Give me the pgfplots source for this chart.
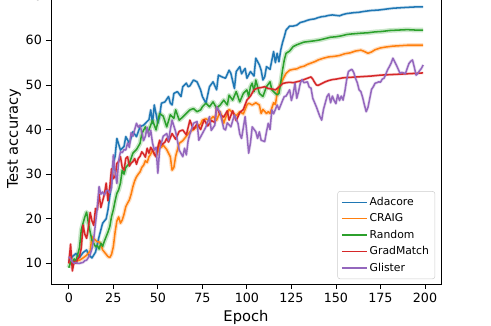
\documentclass[border=0pt]{standalone}
\usepackage{pgfplots}
\pgfplotsset{compat=1.18}
\usepackage{fontspec}
\setmainfont{DejaVu Sans}

\definecolor{cblue}{HTML}{1F77B4}
\definecolor{corange}{HTML}{FF7F0E}
\definecolor{cgreen}{HTML}{2CA02C}
\definecolor{cred}{HTML}{D62728}
\definecolor{cpurple}{HTML}{9467BD}

% Adacore
\pgfplotstableread{
x y
0 10.5
2 11.5
4 12.2
6 11.3
8 12.4
10 13.0
11 12.0
13 11.2
15 12.5
17 16.0
19 19.0
21 20.0
22 22.0
23 25.0
24 28.0
25 32.4
26 34.0
27 38.0
29 35.4
31 36.2
32 38.4
34 36.9
36 39.5
38 38.4
40 40.6
42 41.0
43 41.4
45 42.2
46 44.4
47 41.4
48 45.5
50 41.4
51 43.0
52 45.9
54 46.2
56 47.4
57 45.9
58 45.5
59 48.1
61 48.5
63 47.4
64 49.6
66 50.4
67 49.6
68 49.8
70 51.1
72 50.7
74 48.9
75 47.4
77 45.9
79 49.6
81 50.7
83 48.9
84 52.2
86 51.8
88 51.5
90 53.3
91 52.6
93 49.2
94 53.0
96 54.1
97 52.5
99 53.7
100 51.5
102 53.0
104 52.0
105 56.0
107 54.5
108 53.3
109 51.1
110 51.8
111 54.1
113 53.5
115 57.5
116 55.0
117 57.1
118 55.2
119 57.8
120 59.5
121 60.8
122 62.3
124 63.2
126 63.2
128 63.4
130 64.0
132 64.2
134 64.5
136 64.7
138 64.8
140 65.1
142 65.3
144 65.4
146 65.6
148 65.7
150 65.6
152 65.5
154 65.8
156 66.0
158 66.1
160 66.2
163 66.3
166 66.5
170 66.7
174 66.8
178 67.0
182 67.2
186 67.3
190 67.4
195 67.5
199 67.5
}\adacore

% CRAIG
\pgfplotstableread{
x y
0 10.0
2 10.3
4 10.5
6 10.7
8 11.2
10 11.8
12 12.8
13 16.0
14 15.5
15 15.2
16 14.8
17 14.8
18 14.3
19 13.0
20 12.5
21 12.0
22 11.5
23 11.3
24 12.0
25 13.7
26 17.0
27 19.5
28 20.4
29 19.0
30 19.7
31 21.0
32 22.7
33 23.5
34 24.2
35 25.5
36 27.2
37 28.5
38 29.4
39 30.0
40 30.5
41 31.5
42 32.0
43 33.0
44 32.6
45 33.9
46 34.5
47 35.4
48 34.6
49 34.0
50 35.0
51 36.9
52 36.0
53 36.5
55 35.5
57 33.9
58 30.9
59 31.5
60 34.0
62 36.9
64 37.5
66 38.5
68 39.5
70 40.0
72 40.6
74 41.2
75 42.1
77 42.4
79 42.0
81 42.9
83 42.1
85 44.0
87 41.4
88 42.6
90 44.5
92 43.8
94 43.1
96 44.0
98 43.5
100 45.5
101 45.9
103 45.5
105 46.0
107 45.5
108 43.6
109 44.5
111 43.6
112 44.0
113 43.6
114 44.8
115 46.0
116 45.6
117 48.1
118 49.5
120 51.1
122 52.6
124 53.3
126 53.5
128 53.6
130 54.0
132 54.2
134 54.6
136 54.9
138 55.2
140 55.6
143 56.0
146 56.3
149 56.4
152 56.6
155 57.0
158 57.2
161 57.6
164 57.8
166 57.5
168 57.1
170 57.4
172 57.9
175 58.3
178 58.5
182 58.7
186 58.8
190 58.9
195 58.9
199 58.9
}\craig

% Random
\pgfplotstableread{
x y
0 9.0
1 10.3
2 9.8
3 11.0
4 10.5
5 12.0
6 13.5
7 17.5
8 19.0
9 20.4
10 21.5
11 19.0
12 17.0
13 15.2
14 14.5
15 13.7
16 14.0
17 13.2
18 14.5
19 13.8
20 15.0
21 16.0
22 17.0
23 18.2
24 20.5
25 22.0
26 24.0
27 25.7
28 26.5
29 28.0
30 30.9
31 30.0
32 31.5
34 32.4
36 34.7
38 35.5
40 36.9
41 39.1
43 40.6
44 39.5
45 39.9
47 42.1
49 39.9
51 43.6
53 43.0
55 40.6
57 43.3
59 42.5
60 44.4
62 42.1
64 42.8
66 43.6
68 44.4
70 44.7
72 44.0
74 44.4
75 45.1
77 45.9
79 45.1
81 46.2
83 44.8
85 45.5
87 46.6
89 45.5
90 47.7
92 46.6
94 48.5
96 46.2
98 48.1
100 48.9
101 47.4
102 49.6
103 50.4
104 48.5
105 51.1
107 48.1
109 47.4
111 49.6
113 50.7
114 48.9
116 48.1
117 47.8
118 48.1
119 50.5
120 53.3
121 55.6
122 57.1
124 57.6
126 58.6
128 59.0
130 59.3
132 59.6
134 59.7
136 59.8
138 59.9
141 60.1
144 60.4
147 60.7
150 60.8
153 61.0
156 61.3
158 61.4
161 61.5
164 61.6
168 61.7
172 61.9
176 62.0
180 62.2
185 62.3
190 62.4
195 62.3
199 62.3
}\random

% GradMatch
\pgfplotstableread{
x y
0 10.0
1 14.3
2 8.3
3 10.5
4 10.0
5 11.0
6 11.5
7 13.4
8 18.6
9 16.5
10 15.6
11 18.0
12 21.4
13 19.5
14 18.5
15 22.3
16 22.0
17 25.5
18 22.5
19 24.0
20 25.5
21 28.0
22 24.0
23 27.0
24 31.2
25 29.0
26 29.5
27 32.4
28 32.8
29 33.9
30 31.5
31 30.9
32 33.5
33 33.9
34 31.8
35 32.5
36 32.8
37 33.5
38 32.2
39 33.5
40 34.0
41 35.0
42 34.5
43 33.8
44 35.8
45 34.7
46 36.0
47 35.4
48 34.5
49 33.9
50 36.0
51 37.6
52 36.5
54 37.2
55 38.0
56 37.2
58 39.1
60 37.8
62 39.6
64 39.9
66 38.8
68 42.1
70 40.0
72 41.3
74 40.0
76 42.2
78 40.8
80 42.0
82 41.6
83 45.1
85 43.3
87 42.8
89 44.2
90 42.1
92 44.2
94 42.0
96 43.8
98 44.5
100 46.6
102 47.5
104 48.9
106 49.3
108 49.4
110 49.6
112 49.2
114 49.1
116 48.9
118 49.5
120 50.3
122 50.5
124 50.6
126 50.5
128 50.7
130 50.9
132 51.2
134 51.5
136 51.8
137 51.3
138 50.6
139 50.0
140 49.9
142 50.3
144 50.7
146 51.0
148 51.2
150 51.3
154 51.6
158 51.7
162 51.8
166 51.9
170 52.0
175 52.2
180 52.3
185 52.4
190 52.5
195 52.6
199 52.7
}\gradmatch

% Glister
\pgfplotstableread{
x y
0 11.5
1 11.0
2 10.3
3 10.0
4 10.2
5 10.0
6 10.0
7 10.1
8 10.2
9 10.6
10 10.7
11 11.3
12 12.0
13 13.3
14 15.5
15 19.0
16 22.5
17 27.2
18 25.5
19 26.0
20 25.3
21 26.3
22 26.4
23 25.7
24 27.0
25 34.3
26 30.5
27 27.9
28 33.0
29 35.0
30 34.8
31 35.5
32 35.4
33 37.0
34 36.0
35 39.3
36 38.5
37 40.0
38 41.4
39 40.5
40 41.0
41 39.3
42 37.5
43 38.5
44 40.5
45 38.4
46 39.8
47 37.0
48 35.4
49 36.0
50 30.2
51 35.5
52 37.0
53 38.5
55 39.1
56 37.5
57 40.0
58 42.1
60 39.5
62 35.4
64 33.9
65 35.8
66 34.3
67 37.5
68 39.0
70 41.4
72 41.8
73 37.6
75 39.1
77 40.6
79 42.9
80 39.8
82 41.0
83 45.1
85 43.8
87 40.2
88 39.9
89 41.5
91 40.6
93 43.3
95 41.4
96 39.0
97 38.0
99 42.9
100 39.1
101 34.7
102 37.0
103 40.6
105 39.5
106 38.0
107 39.5
108 37.6
110 37.3
111 39.5
112 41.4
113 40.0
114 44.4
115 43.5
117 45.5
118 44.5
120 46.5
121 47.4
122 47.5
124 48.9
125 46.5
126 48.0
127 50.4
128 47.0
129 48.5
130 50.4
131 51.2
132 50.5
134 50.7
135 49.5
136 49.3
137 47.0
139 45.1
140 44.0
141 42.9
142 42.1
143 44.5
145 47.4
146 48.0
147 46.0
148 47.5
149 46.5
150 45.8
151 47.8
152 46.5
153 47.5
154 46.6
155 48.5
156 51.1
157 53.0
158 53.3
159 53.5
160 52.8
161 51.5
162 50.5
163 48.9
164 48.5
165 47.2
166 45.5
167 44.0
168 45.0
169 47.0
170 49.0
171 49.6
172 50.4
173 50.5
174 50.7
175 50.6
176 51.3
177 51.5
178 52.4
179 53.4
180 54.1
181 54.9
182 56.0
183 55.2
184 54.4
185 53.5
186 52.6
187 52.8
188 52.7
189 52.5
190 53.7
191 54.8
192 55.3
193 55.6
194 54.0
195 52.2
196 52.6
197 53.2
198 53.7
199 54.5
}\glister

\begin{document}
\begin{tikzpicture}
\useasboundingbox (-43.35pt,-35.7pt) rectangle (374pt,241.4pt);
\clip (-43.35pt,-35.7pt) rectangle (374pt,241.4pt);
\begin{axis}[
  scale only axis,
  width=331.5pt, height=246.9pt,
  xmin=-10, xmax=209, ymin=5.36, ymax=70.5,
  xtick={0,25,...,200}, ytick={10,20,...,70},
  xtick pos=bottom, ytick pos=left,
  tick align=outside, major tick length=4.25pt,
  axis line style={line width=0.7pt},
  every tick/.style={line width=0.7pt, black},
  /pgf/number format/assume math mode=true,
  tick label style={font=\fontsize{10.8}{13}\selectfont},
  label style={font=\fontsize{12.5}{15}\selectfont},
  xlabel={Epoch}, ylabel={Test accuracy},
  xlabel style={at={(axis description cs:0.5,0)}, anchor=base, yshift=-32pt},
  ylabel style={at={(axis description cs:-0.095,0.5)}, anchor=center},
  legend style={at={(axis description cs:0.985,0.017)}, anchor=south east,
    draw=black!20, rounded corners=2pt, fill=white,
    font=\fontsize{9.2}{11}\selectfont, row sep=1.5pt, inner sep=3pt},
  legend cell align=left,
  legend image code/.code={\draw[#1, line width=1.2pt] (0pt,0pt) -- (21pt,0pt);},
  every axis plot/.append style={line width=1.3pt, line join=round},
]
% faint bands
\addplot[cblue, opacity=0.2, line width=2.6pt, forget plot] table {\adacore};
\addplot[corange, opacity=0.25, line width=3.4pt, forget plot] table {\craig};
\addplot[cgreen, opacity=0.25, line width=4pt, forget plot] table {\random};
\addplot[cred, opacity=0.2, line width=2.4pt, forget plot] table {\gradmatch};
\addplot[cpurple, opacity=0.2, line width=2.6pt, forget plot] table {\glister};
% means
\addplot[cblue] table {\adacore};
\addplot[corange] table {\craig};
\addplot[cgreen] table {\random};
\addplot[cred] table {\gradmatch};
\addplot[cpurple] table {\glister};
\legend{Adacore,CRAIG,Random,GradMatch,Glister}
\end{axis}
\end{tikzpicture}
\end{document}
